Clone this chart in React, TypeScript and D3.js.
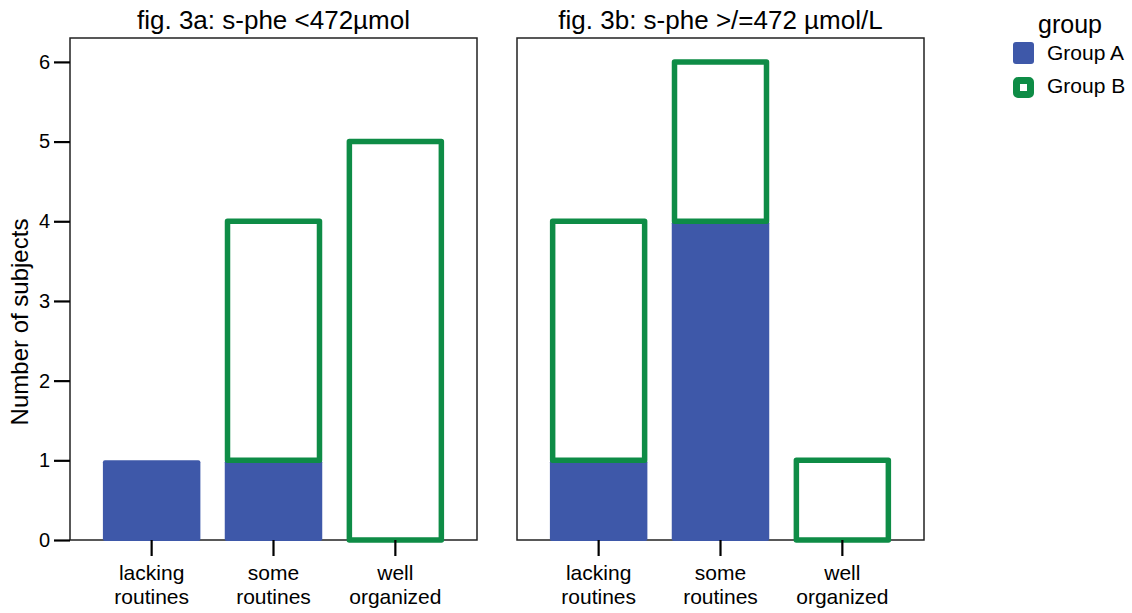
import React, { useEffect, useRef } from "react";
import * as d3 from "d3";

const categories = ["lacking routines", "some routines", "well organized"];
const panelTitles = ["fig. 3a: s-phe <472µmol", "fig. 3b: s-phe >/=472 µmol/L"];
const groupA_3a = [1, 1, 0];
const groupB_3a = [0, 3, 5];
const groupA_3b = [1, 4, 0];
const groupB_3b = [3, 2, 1];
const groupNames = ["Group A", "Group B"];
const yTicks = [0, 1, 2, 3, 4, 5, 6];

const width = 1132;
const height = 613;
const top = 38;
const bottom = 540;
const panelX = [
  [70, 477],
  [517, 924],
];
const blue = "#3E58A9";
const green = "#0E8C46";
const sw = 5.5;
const font = "'Liberation Sans', Arial, Helvetica, sans-serif";

const yScale = d3.scaleLinear().domain([0, 6.3]).range([bottom, top]);

const panels = [
  { title: panelTitles[0], a: groupA_3a, b: groupB_3a },
  { title: panelTitles[1], a: groupA_3b, b: groupB_3b },
];

function Panel({ idx }: { idx: number }) {
  const p = panels[idx];
  const [x0, x1] = panelX[idx];
  const xScale = d3
    .scaleBand<string>()
    .domain(categories)
    .range([x0, x1])
    .paddingInner(0.2)
    .paddingOuter(0.27);
  const xAxisRef = useRef<SVGGElement>(null);
  const yAxisRef = useRef<SVGGElement>(null);

  useEffect(() => {
    const xa = d3.select(xAxisRef.current);
    xa.call(d3.axisBottom(xScale).tickSize(16).tickSizeOuter(0).tickFormat(() => ""));
    xa.select(".domain").remove();
    xa.selectAll(".tick line").attr("stroke", "#000").attr("stroke-width", 2.2);
    // two-line category labels
    xa.selectAll(".tick text").remove();
    xa.selectAll(".tick")
      .append("text")
      .attr("fill", "#000")
      .attr("font-family", font)
      .attr("font-size", 21)
      .attr("text-anchor", "middle")
      .selectAll("tspan")
      .data((d: any) => {
        const i = d.indexOf(" ");
        return [d.slice(0, i), d.slice(i + 1)];
      })
      .join("tspan")
      .attr("x", 0)
      .attr("y", (_d, i) => 40 + i * 24)
      .text((d) => d);

    if (idx === 0) {
      const ya = d3.select(yAxisRef.current);
      ya.call(
        d3
          .axisLeft(yScale)
          .tickValues(yTicks)
          .tickFormat(d3.format("d"))
          .tickSize(16)
          .tickPadding(4)
          .tickSizeOuter(0)
      );
      ya.select(".domain").remove();
      ya.selectAll(".tick line").attr("stroke", "#000").attr("stroke-width", 2.2);
      ya.selectAll(".tick text")
        .attr("fill", "#000")
        .attr("font-family", font)
        .attr("font-size", 20);
    }
  }, []);

  const bw = xScale.bandwidth();

  return (
    <g>
      <rect x={x0} y={top} width={x1 - x0} height={bottom - top} fill="#fff" stroke="#222" strokeWidth={1.5} />
      {categories.map((c, i) => {
        const bx = xScale(c)!;
        const a = p.a[i];
        const b = p.b[i];
        return (
          <g key={c}>
            {a > 0 && (
              <rect
                x={bx}
                y={yScale(a)}
                width={bw}
                height={yScale(0) - yScale(a) + 1}
                rx={2}
                fill={blue}
              />
            )}
            {b > 0 && (
              <rect
                x={bx + sw / 2}
                y={yScale(a + b)}
                width={bw - sw}
                height={yScale(a) - yScale(a + b)}
                fill="none"
                stroke={green}
                strokeWidth={sw}
                strokeLinejoin="round"
              />
            )}
          </g>
        );
      })}
      <g ref={xAxisRef} transform={`translate(0,${bottom})`} />
      {idx === 0 && <g ref={yAxisRef} transform={`translate(${x0},0)`} />}
      <text
        x={(x0 + x1) / 2}
        y={29}
        textAnchor="middle"
        fontFamily={font}
        fontSize={26}
        fill="#000"
      >
        {p.title}
      </text>
    </g>
  );
}

export default function App() {
  return (
    <svg width={width} height={height} style={{ display: "block", position: "absolute", left: 0, top: 0 }}>
      <rect width={width} height={height} fill="#fff" />
      <Panel idx={0} />
      <Panel idx={1} />
      <text
        transform={`translate(28,${322}) rotate(-90)`}
        textAnchor="middle"
        fontFamily={font}
        fontSize={24}
        fill="#000"
      >
        Number of subjects
      </text>
      {/* legend */}
      <text x={1038} y={33} fontFamily={font} fontSize={25} fill="#000">
        group
      </text>
      <rect x={1013} y={42} width={21} height={22} rx={3} fill={blue} />
      <rect x={1016.5} y={80.5} width={14} height={14} rx={1.5} fill="#fff" stroke={green} strokeWidth={7} />
      {groupNames.map((g, i) => (
        <text key={g} x={1047} y={60 + i * 33} fontFamily={font} fontSize={21} fill="#000">
          {g}
        </text>
      ))}
    </svg>
  );
}
